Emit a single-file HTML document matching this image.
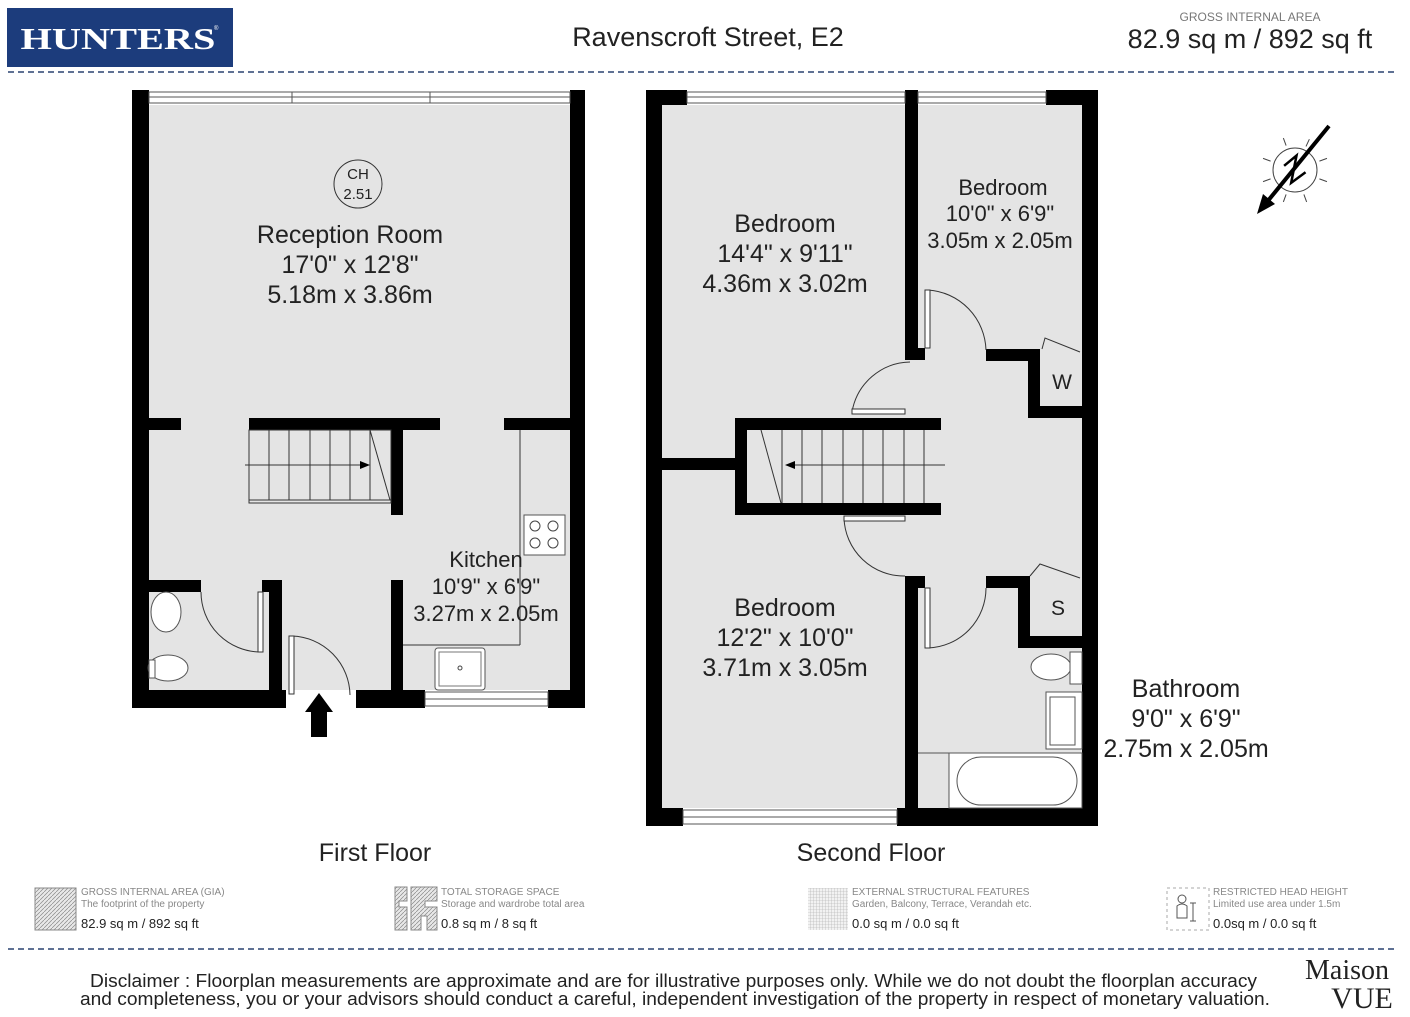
<!DOCTYPE html>
<html><head><meta charset="utf-8"><style>
html,body{margin:0;padding:0;background:#fff;}
svg{display:block;}
text{font-family:"Liberation Sans",Arial,sans-serif;}
text.serif{font-family:"Liberation Serif","DejaVu Serif",serif;}
</style></head><body>
<svg width="1410" height="1017" viewBox="0 0 1410 1017" xmlns="http://www.w3.org/2000/svg">
<rect width="1410" height="1017" fill="#fff"/>
<!-- header -->
<rect x="7" y="8" width="226" height="59" fill="#1c3c7c"/>
<text class="serif" x="118" y="49" font-weight="bold" font-size="31" fill="#fff" text-anchor="middle" textLength="195" lengthAdjust="spacingAndGlyphs">HUNTERS</text>
<text x="214" y="30" font-size="6" fill="#fff">®</text>
<text x="708" y="46" font-size="27" text-anchor="middle" fill="#222">Ravenscroft Street, E2</text>
<text x="1250" y="21" font-size="12" text-anchor="middle" fill="#777">GROSS INTERNAL AREA</text>
<text x="1250" y="48" font-size="27" text-anchor="middle" fill="#222">82.9 sq m / 892 sq ft</text>
<line x1="8" y1="72" x2="1397" y2="72" stroke="#2a4270" stroke-width="1.5" stroke-dasharray="6,4"/>
<line x1="8" y1="949" x2="1397" y2="949" stroke="#2a4270" stroke-width="1.5" stroke-dasharray="6,4"/>

<!-- FIRST FLOOR -->
<rect x="149" y="105" width="421" height="585" fill="#e4e4e4"/>
<g fill="#000">
<rect x="132" y="90" width="17" height="618"/>
<rect x="570" y="90" width="15" height="618"/>
<rect x="132" y="690" width="154" height="18"/>
<rect x="356" y="690" width="69" height="18"/>
<rect x="548" y="690" width="37" height="18"/>
<rect x="149" y="418" width="32" height="12"/>
<rect x="249" y="418" width="191" height="12"/>
<rect x="504" y="418" width="66" height="12"/>
<rect x="391" y="430" width="12" height="85"/>
<rect x="149" y="580" width="52" height="12"/>
<rect x="262" y="580" width="20" height="12"/>
<rect x="269" y="580" width="13" height="128"/>
<rect x="391" y="580" width="12" height="110"/>
</g>
<g fill="#fff" stroke="#555" stroke-width="1">
<rect x="149" y="92" width="421" height="11"/>
<line x1="149" y1="97" x2="570" y2="97"/>
<line x1="292" y1="92" x2="292" y2="103"/><line x1="430" y1="92" x2="430" y2="103"/>
<rect x="425" y="692" width="123" height="14"/>
<line x1="425" y1="699" x2="548" y2="699"/>
</g>
<g stroke="#333" stroke-width="1" fill="none">
<rect x="249" y="430" width="142" height="73" fill="#e4e4e4"/>
<line x1="269" y1="430" x2="269" y2="500"/><line x1="289" y1="430" x2="289" y2="500"/>
<line x1="310" y1="430" x2="310" y2="500"/><line x1="330" y1="430" x2="330" y2="500"/>
<line x1="350" y1="430" x2="350" y2="500"/><line x1="370" y1="430" x2="370" y2="500"/>
<line x1="370" y1="430" x2="390" y2="500"/>
<line x1="245" y1="465" x2="360" y2="465"/>
<line x1="249" y1="500" x2="391" y2="500"/>
<line x1="520" y1="430" x2="520" y2="645"/><line x1="403" y1="645" x2="520" y2="645"/>
</g>
<polygon points="360,461 370,465 360,469" fill="#000"/>
<rect x="524" y="515" width="41" height="40" fill="#fff" stroke="#555"/>
<g fill="none" stroke="#444"><circle cx="535" cy="526" r="5"/><circle cx="553" cy="526" r="5"/><circle cx="535" cy="543" r="5"/><circle cx="553" cy="543" r="5"/></g>
<rect x="435" y="648" width="50" height="42" rx="3" fill="#fff" stroke="#555"/>
<rect x="439" y="652" width="42" height="34" fill="#fff" stroke="#777"/>
<circle cx="460" cy="668" r="2" fill="none" stroke="#444"/>
<ellipse cx="166" cy="612" rx="15" ry="20" fill="#fff" stroke="#555"/>
<ellipse cx="168" cy="668" rx="20" ry="13" fill="#fff" stroke="#555"/>
<rect x="149" y="660" width="6" height="18" fill="#fff" stroke="#555"/>
<g fill="none" stroke="#333" stroke-width="1">
<path d="M201 592 A60 60 0 0 0 260 652"/>
<rect x="258" y="592" width="5" height="60" fill="#fff"/>
<path d="M292 636 A60 60 0 0 1 350 695"/>
<rect x="289" y="636" width="5" height="58" fill="#fff"/>
</g>
<polygon points="305,712 319,693 333,712 327,712 327,737 311,737 311,712" fill="#000"/>
<circle cx="358" cy="184" r="24" fill="none" stroke="#333"/>
<text x="358" y="179" font-size="15" text-anchor="middle" fill="#222">CH</text>
<text x="358" y="199" font-size="15" text-anchor="middle" fill="#222">2.51</text>
<g font-size="25" fill="#222" text-anchor="middle">
<text x="350" y="243">Reception Room</text>
<text x="350" y="273">17'0" x 12'8"</text>
<text x="350" y="303">5.18m x 3.86m</text>
<text x="486" y="567" font-size="22">Kitchen</text>
<text x="486" y="594" font-size="22">10'9" x 6'9"</text>
<text x="486" y="621" font-size="22">3.27m x 2.05m</text>
<text x="375" y="861">First Floor</text>
<text x="871" y="861">Second Floor</text>
</g>

<!-- SECOND FLOOR -->
<rect x="662" y="105" width="420" height="703" fill="#e4e4e4"/>
<g fill="#000">
<rect x="646" y="90" width="16" height="736"/>
<rect x="1082" y="90" width="16" height="736"/>
<rect x="646" y="90" width="41" height="15"/>
<rect x="1046" y="90" width="52" height="15"/>
<rect x="646" y="808" width="37" height="18"/>
<rect x="897" y="808" width="201" height="18"/>
<rect x="905" y="90" width="13" height="270"/>
<rect x="905" y="348" width="20" height="12"/>
<rect x="986" y="349" width="54" height="12"/>
<rect x="1028" y="349" width="12" height="69"/>
<rect x="1028" y="406" width="54" height="12"/>
<rect x="735" y="418" width="206" height="12"/>
<rect x="735" y="503" width="206" height="12"/>
<rect x="735" y="418" width="12" height="97"/>
<rect x="662" y="458" width="73" height="12"/>
<rect x="905" y="576" width="13" height="250"/>
<rect x="905" y="576" width="20" height="12"/>
<rect x="986" y="576" width="44" height="12"/>
<rect x="1018" y="576" width="12" height="72"/>
<rect x="1018" y="636" width="64" height="12"/>
</g>
<g fill="#fff" stroke="#555" stroke-width="1">
<rect x="687" y="92" width="218" height="11"/><line x1="687" y1="97" x2="905" y2="97"/>
<rect x="918" y="92" width="128" height="11"/><line x1="918" y1="97" x2="1046" y2="97"/>
<rect x="683" y="810" width="214" height="14"/><line x1="683" y1="817" x2="897" y2="817"/>
</g>
<g stroke="#333" stroke-width="1" fill="none">
<line x1="761" y1="430" x2="781" y2="503"/>
<line x1="782" y1="430" x2="782" y2="503"/><line x1="802" y1="430" x2="802" y2="503"/>
<line x1="822" y1="430" x2="822" y2="503"/><line x1="843" y1="430" x2="843" y2="503"/>
<line x1="863" y1="430" x2="863" y2="503"/><line x1="883" y1="430" x2="883" y2="503"/>
<line x1="904" y1="430" x2="904" y2="503"/><line x1="924" y1="430" x2="924" y2="503"/>
<line x1="795" y1="465" x2="945" y2="465"/>
</g>
<polygon points="795,461 785,465 795,469" fill="#000"/>
<g fill="none" stroke="#333" stroke-width="1">
<path d="M928 290 A62 62 0 0 1 986 350"/><rect x="925" y="290" width="5" height="58" fill="#fff"/>
<path d="M852 412 A60 60 0 0 1 910 362"/><rect x="852" y="409" width="53" height="5" fill="#fff"/>
<path d="M844 518 A60 60 0 0 0 905 576"/><rect x="844" y="516" width="61" height="5" fill="#fff"/>
<path d="M928 648 A60 60 0 0 0 986 588"/><rect x="925" y="588" width="5" height="60" fill="#fff"/>
<path d="M1042 349 L1045 338 L1080 352"/>
<path d="M1030 576 L1040 564 L1080 578"/>
</g>
<text x="1062" y="389" font-size="21" text-anchor="middle" fill="#222">W</text>
<text x="1058" y="615" font-size="21" text-anchor="middle" fill="#222">S</text>
<g fill="#fff" stroke="#555" stroke-width="1">
<ellipse cx="1051" cy="667" rx="20" ry="13"/>
<rect x="1070" y="652" width="12" height="32"/>
<rect x="1046" y="692" width="36" height="57"/>
<rect x="1050" y="697" width="25" height="48"/>
<line x1="918" y1="753" x2="1082" y2="753"/>
<rect x="949" y="753" width="133" height="55"/>
<rect x="957" y="757" width="120" height="48" rx="24"/>
</g>
<g font-size="25" fill="#222" text-anchor="middle">
<text x="785" y="232">Bedroom</text>
<text x="785" y="262">14'4" x 9'11"</text>
<text x="785" y="292">4.36m x 3.02m</text>
<text x="1003" y="195" font-size="22">Bedroom</text>
<text x="1000" y="221" font-size="22">10'0" x 6'9"</text>
<text x="1000" y="248" font-size="22">3.05m x 2.05m</text>
<text x="785" y="616">Bedroom</text>
<text x="785" y="646">12'2" x 10'0"</text>
<text x="785" y="676">3.71m x 3.05m</text>
<text x="1186" y="697">Bathroom</text>
<text x="1186" y="727">9'0" x 6'9"</text>
<text x="1186" y="757">2.75m x 2.05m</text>
</g>
<g transform="translate(1295,170)">
<circle r="22" fill="#fff" stroke="#444"/>
<g stroke="#444" stroke-width="1">
<line x1="0" y1="-26" x2="0" y2="-34" transform="rotate(-20)"/>
<line x1="0" y1="-26" x2="0" y2="-34" transform="rotate(25)"/>
<line x1="0" y1="-26" x2="0" y2="-34" transform="rotate(70)"/>
<line x1="0" y1="-26" x2="0" y2="-34" transform="rotate(110)"/>
<line x1="0" y1="-26" x2="0" y2="-34" transform="rotate(160)"/>
<line x1="0" y1="-26" x2="0" y2="-34" transform="rotate(200)"/>
<line x1="0" y1="-26" x2="0" y2="-34" transform="rotate(250)"/>
<line x1="0" y1="-26" x2="0" y2="-34" transform="rotate(290)"/>
</g>
<line x1="34" y1="-44" x2="-28" y2="32" stroke="#000" stroke-width="4"/>
<polygon points="-38,44 -32,24 -20,34" fill="#000"/>
<path d="M-10,-6 L4,-14 L-6,12 L10,4" fill="none" stroke="#000" stroke-width="2.5" transform="rotate(-10)"/>
</g>
<defs>
<pattern id="hatch" width="4" height="4" patternUnits="userSpaceOnUse"><rect width="4" height="4" fill="#e8e8e8"/><path d="M0 4 L4 0" stroke="#888" stroke-width="0.7"/></pattern>
<pattern id="grid" width="3" height="3" patternUnits="userSpaceOnUse"><rect width="3" height="3" fill="#f2f2f2"/><path d="M0 0 H3 M0 0 V3" stroke="#aaa" stroke-width="0.6"/></pattern>
</defs>
<rect x="35" y="888" width="41" height="42" fill="url(#hatch)" stroke="#888"/>
<path d="M395 887 h12 v14 h-8 v6 h8 v23 h-12 z M411 887 h26 v14 h-12 v6 h12 v23 h-10 v-14 h-6 v14 h-10 z" fill="url(#hatch)" stroke="#888"/>
<rect x="808" y="888" width="40" height="42" fill="url(#grid)"/>
<rect x="1167" y="888" width="42" height="42" fill="none" stroke="#aaa" stroke-dasharray="3,3"/>
<g fill="none" stroke="#555"><circle cx="1182" cy="899" r="4"/><path d="M1177 918 v-12 q5 -4 10 0 v12 z"/><path d="M1193 903 v18 M1190 903 h6 M1190 921 h6"/></g>
<g font-size="10" fill="#888">
<text x="81" y="895">GROSS INTERNAL AREA (GIA)</text><text x="81" y="907">The footprint of the property</text>
<text x="441" y="895">TOTAL STORAGE SPACE</text><text x="441" y="907">Storage and wardrobe total area</text>
<text x="852" y="895">EXTERNAL STRUCTURAL FEATURES</text><text x="852" y="907">Garden, Balcony, Terrace, Verandah etc.</text>
<text x="1213" y="895">RESTRICTED HEAD HEIGHT</text><text x="1213" y="907">Limited use area under 1.5m</text>
</g>
<g font-size="13" fill="#222">
<text x="81" y="928">82.9 sq m / 892 sq ft</text>
<text x="441" y="928">0.8 sq m / 8 sq ft</text>
<text x="852" y="928">0.0 sq m / 0.0 sq ft</text>
<text x="1213" y="928">0.0sq m / 0.0 sq ft</text>
</g>
<g font-size="18" fill="#222">
<text x="90" y="987" textLength="1167" lengthAdjust="spacingAndGlyphs">Disclaimer : Floorplan measurements are approximate and are for illustrative purposes only. While we do not doubt the floorplan accuracy</text>
<text x="80" y="1005" textLength="1190" lengthAdjust="spacingAndGlyphs">and completeness, you or your advisors should conduct a careful, independent investigation of the property in respect of monetary valuation.</text>
</g>
<text class="serif" x="1347" y="979" font-size="28" text-anchor="middle" fill="#222">Maison</text>
<text class="serif" x="1362" y="1008" font-size="30" text-anchor="middle" fill="#222">VUE</text>
</svg>
</body></html>
